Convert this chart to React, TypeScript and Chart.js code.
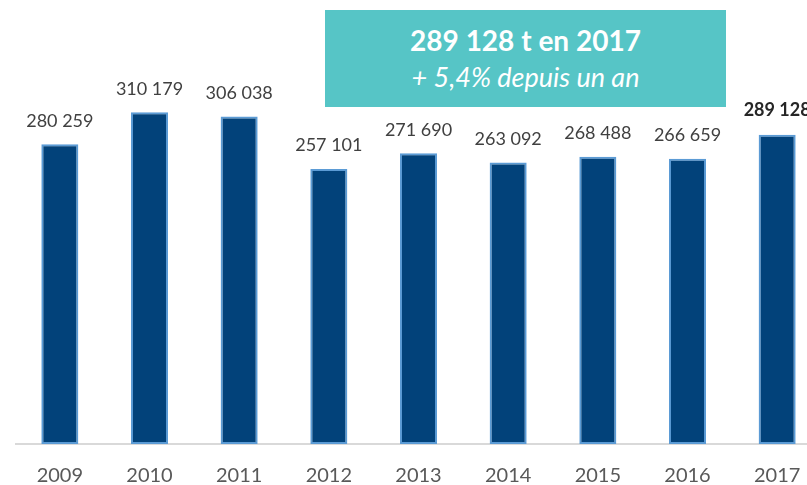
import React, { useEffect, useRef } from "react";
import { Chart, registerables } from "chart.js";

Chart.register(...registerables);

const years = ["2009", "2010", "2011", "2012", "2013", "2014", "2015", "2016", "2017"];
const tonnages = [280259, 310179, 306038, 257101, 271690, 263092, 268488, 266659, 289128];
const headline = "289 128 t en 2017";
const subline = "+ 5,4% depuis un an";
const yMax = 415000;

function fmt(v: number): string {
  return String(v).replace(/\B(?=(\d{3})+(?!\d))/g, " ");
}

const valueLabels = {
  id: "valueLabels",
  afterDatasetsDraw(chart: any) {
    const ctx = chart.ctx;
    const meta = chart.getDatasetMeta(0);
    ctx.save();
    ctx.textAlign = "center";
    ctx.textBaseline = "alphabetic";
    meta.data.forEach((bar: any, i: number) => {
      const last = i === meta.data.length - 1;
      ctx.font = (last ? "bold " : "") + "18px Lato";
      ctx.fillStyle = last ? "#262626" : "#404040";
      ctx.fillText(fmt(tonnages[i]), bar.x, bar.y - (last ? 19 : 17.5));
    });
    ctx.restore();
  },
};

export default function App() {
  const canvasRef = useRef<HTMLCanvasElement | null>(null);

  useEffect(() => {
    if (!canvasRef.current) return;
    const chart = new Chart(canvasRef.current, {
      type: "bar",
      data: {
        labels: years,
        datasets: [
          {
            data: tonnages,
            backgroundColor: "#02427A",
            borderColor: "#5B9BD5",
            borderWidth: 2,
            borderSkipped: false,
            barPercentage: 1,
            categoryPercentage: 0.413,
          },
        ],
      },
      options: {
        animation: false,
        responsive: true,
        maintainAspectRatio: false,
        layout: { padding: 0 },
        plugins: {
          legend: { display: false },
          tooltip: { enabled: false },
        },
        scales: {
          x: {
            grid: { display: false, drawTicks: false },
            border: { display: true, color: "#D9D9D9", width: 2 },
            ticks: {
              color: "#595959",
              font: { family: "Lato", size: 20 },
              padding: 20,
              maxRotation: 0,
              autoSkip: false,
            },
            afterFit: (scale: any) => {
              scale.height = 41;
            },
          },
          y: {
            display: false,
            min: 0,
            max: yMax,
          },
        },
      },
      plugins: [valueLabels],
    });
    return () => chart.destroy();
  }, []);

  return (
    <div
      style={{
        position: "fixed",
        left: 0,
        top: 0,
        width: 807,
        height: 485,
        overflow: "hidden",
        background: "#ffffff",
      }}
    >
      <div style={{ position: "absolute", left: 15, top: 0, width: 807, height: 485 }}>
        <canvas ref={canvasRef} />
      </div>
      <div
        style={{
          position: "absolute",
          left: 325,
          top: 10,
          width: 401,
          height: 97,
          background: "#56C5C6",
          color: "#ffffff",
          fontFamily: "Lato, sans-serif",
          display: "flex",
          flexDirection: "column",
          alignItems: "center",
          justifyContent: "center",
        }}
      >
        <div style={{ fontWeight: 700, fontSize: 28, lineHeight: "35.5px", whiteSpace: "nowrap" }}>{headline}</div>
        <div style={{ fontStyle: "italic", fontSize: 27, lineHeight: "35.5px", whiteSpace: "nowrap" }}>{subline}</div>
      </div>
    </div>
  );
}
